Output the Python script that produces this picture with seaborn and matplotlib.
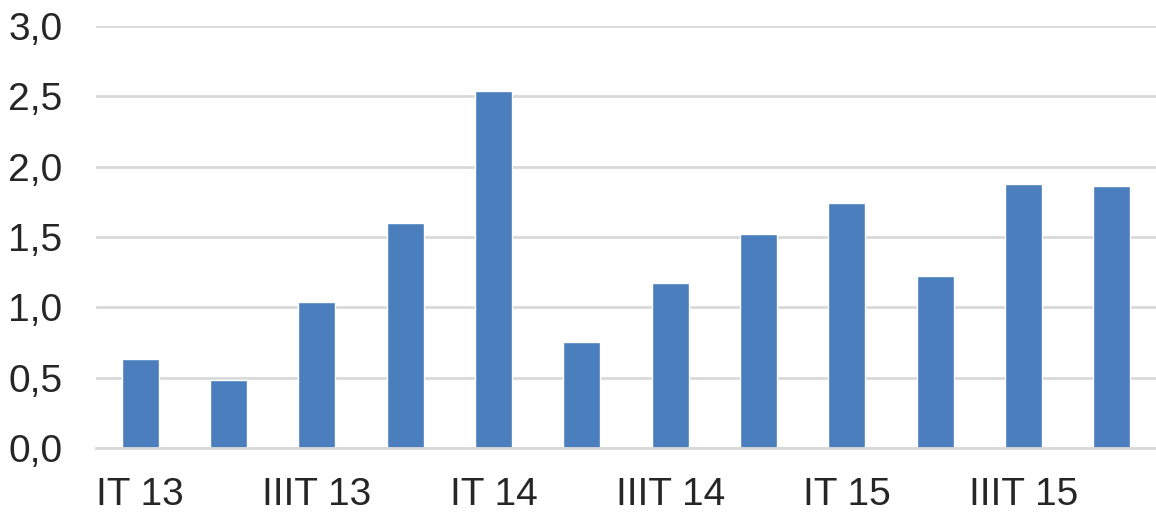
import numpy as np
import pandas as pd
import seaborn as sns
import matplotlib.pyplot as plt

# dati trimestrali
quarters = ['IT 13', 'IIT 13', 'IIIT 13', 'IVT 13',
            'IT 14', 'IIT 14', 'IIIT 14', 'IVT 14',
            'IT 15', 'IIT 15', 'IIIT 15', 'IVT 15']
values = [0.63, 0.48, 1.04, 1.60, 2.54, 0.75, 1.17, 1.52, 1.74, 1.22, 1.88, 1.86]
y_ticks = [0.0, 0.5, 1.0, 1.5, 2.0, 2.5, 3.0]
y_labels = ['0,0', '0,5', '1,0', '1,5', '2,0', '2,5', '3,0']

sns.set_theme(style='white')
plt.rcParams['font.family'] = ['Liberation Sans', 'DejaVu Sans']

df = pd.DataFrame({'trimestre': quarters, 'valore': values})

fig = plt.figure(figsize=(11.56, 5.17), dpi=100)
ax = fig.add_axes([0.083, 0.1335, 0.917, 0.8162])

sns.barplot(data=df, x='trimestre', y='valore', color='#4a7ebd',
            saturation=1, width=0.42, ax=ax)

ax.set_ylim(0, 3.0)
ax.set_xlim(-0.5, len(quarters) - 0.5)
ax.set_yticks(y_ticks)
ax.set_yticklabels(y_labels)
# solo un'etichetta ogni due, come nel grafico originale
ax.set_xticks(range(len(quarters)))
ax.set_xticklabels([q if i % 2 == 0 else '' for i, q in enumerate(quarters)])

ax.yaxis.grid(True, color='#d9d9d9', linewidth=2)
ax.set_axisbelow(True)
for s in ['top', 'right', 'left']:
    ax.spines[s].set_visible(False)
ax.spines['bottom'].set_color('#d9d9d9')
ax.spines['bottom'].set_linewidth(2)

ax.tick_params(axis='both', length=0, labelsize=28, colors='#262626')
ax.tick_params(axis='y', pad=24)
ax.tick_params(axis='x', pad=21)
ax.set_xlabel('')
ax.set_ylabel('')

fig.savefig('out.png', dpi=100)
